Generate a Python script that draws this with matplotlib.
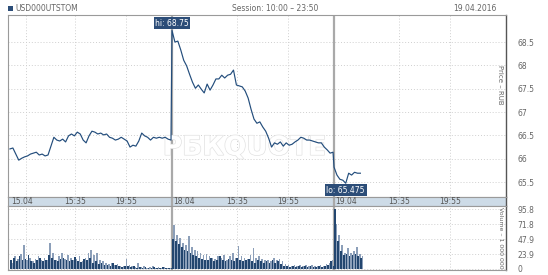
import numpy as np
import matplotlib
matplotlib.use('Agg')
import matplotlib.pyplot as plt
import matplotlib.patheffects as pe

# 15-minute closing prices, session 10:00 - 23:50
days = ['15.04', '18.04', '19.04']
price_d1 = [66.21, 66.23, 66.10, 65.97, 66.01, 66.04, 66.06, 66.10, 66.12, 66.14,
            66.08, 66.10, 66.06, 66.08, 66.27, 66.46, 66.40, 66.38, 66.42, 66.36,
            66.49, 66.53, 66.49, 66.57, 66.53, 66.40, 66.34, 66.49, 66.59, 66.57,
            66.53, 66.55, 66.51, 66.53, 66.46, 66.44, 66.40, 66.42, 66.46, 66.42,
            66.38, 66.25, 66.29, 66.27, 66.38, 66.55, 66.49, 66.46, 66.40, 66.46,
            66.44, 66.46, 66.44, 66.46, 66.42, 66.40]
price_d2 = [68.75, 68.50, 68.52, 68.33, 68.11, 67.99, 67.81, 67.64, 67.51, 67.58,
            67.49, 67.41, 67.60, 67.47, 67.58, 67.71, 67.71, 67.79, 67.73, 67.79,
            67.81, 67.90, 67.58, 67.56, 67.54, 67.45, 67.30, 67.06, 66.85, 66.76,
            66.79, 66.68, 66.59, 66.44, 66.25, 66.34, 66.31, 66.36, 66.27, 66.34,
            66.29, 66.31, 66.36, 66.40, 66.46, 66.44, 66.40, 66.40, 66.38, 66.36,
            66.34, 66.34, 66.25, 66.19, 66.12, 66.14]
price_d3 = [65.82, 65.65, 65.56, 65.54, 65.475, 65.69, 65.65, 65.71, 65.69, 65.69]

# volume, 1 000 000 USD (two interleaved half-interval series)
vol_dark = [
    [14, 18, 12, 20, 15, 16, 22, 13, 10, 14, 17, 12, 15, 22, 18, 14, 12, 16, 18, 14,
     12, 15, 19, 13, 11, 16, 14, 18, 10, 12, 8, 10, 7, 6, 5, 9, 6, 4, 3, 5,
     4, 3, 4, 2, 3, 2, 3, 2, 2, 3, 2, 2, 3, 2, 2, 1],
    [48, 45, 40, 35, 30, 28, 25, 22, 20, 18, 16, 15, 14, 18, 12, 15, 20, 14, 12, 16,
     14, 12, 18, 15, 12, 14, 16, 12, 10, 14, 12, 10, 12, 9, 14, 10, 12, 8, 5, 4,
     3, 4, 3, 5, 3, 4, 3, 4, 3, 3, 4, 3, 5, 6, 12, 4],
    [95.8, 45, 28, 22, 24, 20, 22, 24, 20, 18],
]
vol_light = [
    [10, 20, 16, 24, 38, 14, 18, 12, 16, 20, 15, 18, 14, 41, 25, 15, 20, 25, 16, 22,
     18, 14, 16, 20, 12, 18, 25, 30, 22, 25, 14, 12, 10, 8, 9, 6, 8, 5, 4, 16,
     6, 4, 3, 9, 3, 4, 2, 3, 4, 2, 3, 2, 3, 2, 2, 2],
    [71, 55, 50, 42, 38, 52, 35, 30, 28, 25, 22, 24, 20, 18, 16, 20, 18, 22, 15, 20,
     25, 18, 36, 20, 18, 16, 22, 34, 18, 20, 16, 15, 14, 12, 18, 14, 16, 12, 8, 6,
     5, 6, 5, 7, 5, 6, 5, 6, 5, 4, 6, 5, 8, 10, 14, 6],
    [71.8, 55, 38, 26, 34, 25, 28, 35, 24, 20],
]

time_ticks = ['15:35', '19:55']
price_ticks = [65.5, 66, 66.5, 67, 67.5, 68, 68.5]
vol_ticks = [0, 23.9, 47.9, 71.8, 95.8]

SESSION = 830   # minutes 10:00 - 23:50
STEP = 15

def tick_minutes(label):
    h, m = label.split(':')
    return (int(h) - 10) * 60 + int(m)

prices = [price_d1, price_d2, price_d3]
xs, ys = [], []
for d, p in enumerate(prices):
    xs.extend(d * SESSION + STEP * np.arange(len(p)))
    ys.extend(p)
xs = np.array(xs)
ys = np.array(ys)

line_c = '#234d7c'
grid_c = '#cfcfcf'
sep_c = '#a9a9a9'
txt_c = '#666666'
fs = 5.5

fig = plt.figure(figsize=(5.48, 2.75), dpi=100)
ax_p = fig.add_axes([0.0146, 0.2836, 0.9088, 0.6619])
ax_t = fig.add_axes([0.0146, 0.2509, 0.9088, 0.0327])
ax_v = fig.add_axes([0.0146, 0.0182, 0.9088, 0.2327])

xlim = (-10, 2541)
grid_x = [80] + [d * SESSION + tick_minutes(t) for d in range(3) for t in time_ticks]

for ax in (ax_p, ax_t, ax_v):
    ax.set_xlim(*xlim)
    ax.set_xticks([])
    for x in grid_x:
        if ax is not ax_t:
            ax.axvline(x, color=grid_c, lw=0.7, ls=(0, (1, 2)), zorder=0)
    for d in range(1, 3):
        ax.axvline(d * SESSION, color=sep_c, lw=1.6, zorder=1)
    for s in ax.spines.values():
        s.set_color('#9a9a9a')
        s.set_linewidth(0.8)
    ax.spines['right'].set_color('#555555')
    ax.spines['right'].set_linewidth(1.0)

# price panel
ax_p.plot(xs, ys, color=line_c, lw=0.85, zorder=3)
ax_p.set_ylim(65.18, 69.08)
ax_p.yaxis.tick_right()
ax_p.set_yticks(price_ticks)
ax_p.set_yticklabels([f'{v:g}' for v in price_ticks])
ax_p.tick_params(axis='y', length=0, pad=8, labelsize=fs, labelcolor=txt_c)
for v in price_ticks:
    ax_p.axhline(v, color=grid_c, lw=0.7, ls=(0, (1, 2)), zorder=0)
ax_p.spines['top'].set_linestyle((0, (2, 1)))
ax_p.text(0.988, 0.615, 'Price \u2013 RUB', transform=ax_p.transAxes, rotation=-90,
          fontsize=5, color=txt_c, ha='center', va='center')

hi_i = int(np.argmax(ys))
lo_i = int(np.argmin(ys))
box = dict(boxstyle='square,pad=0.2', fc='#2c4d78', ec='none')
ax_p.text(xs[hi_i], ys[hi_i] + 0.06, f'hi: {ys[hi_i]:g}', fontsize=fs, color='white',
          ha='center', va='bottom', bbox=box, zorder=5)
ax_p.text(xs[lo_i], ys[lo_i] - 0.05, f'lo: {ys[lo_i]:g}', fontsize=fs, color='white',
          ha='center', va='top', bbox=box, zorder=5)

ax_p.text(0.475, 0.27, '\u0420\u0411\u041aQUOTE', transform=ax_p.transAxes,
          fontsize=19, fontweight='bold', color='white', ha='center', va='center',
          zorder=2, path_effects=[pe.withStroke(linewidth=1.0, foreground='#e2e2e2')])

# time bar
ax_t.set_facecolor('#cddbe7')
ax_t.set_yticks([])
ax_t.set_ylim(0, 1)
for d, day in enumerate(days):
    ax_t.text(d * SESSION + 62, 0.45, day, fontsize=fs, color='#555555',
              ha='center', va='center')
    for t in time_ticks:
        ax_t.text(d * SESSION + tick_minutes(t), 0.45, t, fontsize=fs,
                  color='#555555', ha='center', va='center')

# volume panel
for d in range(3):
    base = d * SESSION
    vd = vol_dark[d]
    vl = vol_light[d]
    ax_v.bar(base + STEP * np.arange(len(vl)) + STEP / 2, vl, width=STEP * 0.55,
             color='#8c9fb9', lw=0, zorder=2, align='edge')
    ax_v.bar(base + STEP * np.arange(len(vd)), vd, width=STEP * 0.6,
             color='#23466f', lw=0, zorder=3, align='edge')
ax_v.set_ylim(-1.6, 100.6)
ax_v.yaxis.tick_right()
ax_v.set_yticks(vol_ticks)
ax_v.set_yticklabels([f'{v:g}' for v in vol_ticks])
ax_v.tick_params(axis='y', length=0, pad=8, labelsize=fs, labelcolor=txt_c)
for v in vol_ticks:
    ax_v.axhline(v, color=grid_c, lw=0.7, ls=(0, (1, 2)), zorder=0)
ax_v.text(0.988, 0.5, 'Volume \u2013 1 000 000', transform=ax_v.transAxes, rotation=-90,
          fontsize=4.5, color=txt_c, ha='center', va='center')

# header
fig.patches.append(plt.Rectangle((8 / 548, 1 - 11 / 275), 5 / 548, 5 / 275,
                                 transform=fig.transFigure, fc='#2c4d78', ec='none'))
fig.text(15 / 548, 1 - 8.5 / 275, 'USD000UTSTOM', fontsize=fs, color=txt_c, va='center')
fig.text(275 / 548, 1 - 8.5 / 275, 'Session: 10:00 \u2013 23:50', fontsize=fs,
         color=txt_c, va='center', ha='center')
fig.text(497 / 548, 1 - 8.5 / 275, '19.04.2016', fontsize=fs, color=txt_c,
         va='center', ha='right')

fig.savefig('out.png', dpi=100)
